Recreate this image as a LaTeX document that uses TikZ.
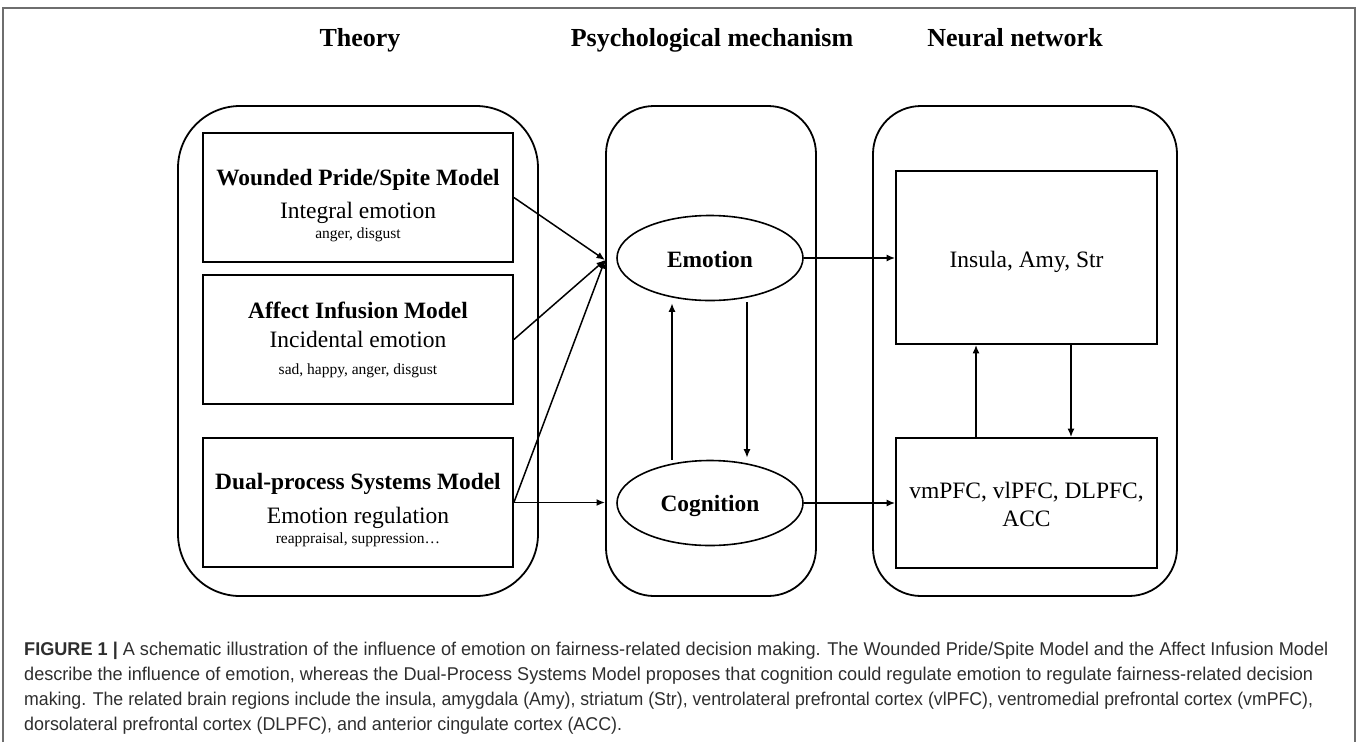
\documentclass[tikz,border=0pt]{standalone}
\usepackage{fontspec}
\usepackage{graphicx}
\setmainfont{Liberation Serif}
\newfontfamily\capfont{Liberation Sans}
\usetikzlibrary{shapes.geometric,arrows.meta}
\definecolor{captxt}{HTML}{2E2E2E}
\definecolor{framegray}{HTML}{6E6E6E}
\tikzset{
  panel/.style={draw, line width=1.8pt, rounded corners=#1},
  tbox/.style={draw, line width=1.8pt, rectangle, inner sep=0pt},
  oval/.style={draw, line width=1.6pt, ellipse, inner sep=0pt, minimum width=186pt, minimum height=85pt},
  conn/.style={line width=1.5pt, -{Latex[length=8.5pt,width=7pt]}},
  head/.style={anchor=base, font=\fontsize{26}{30}\selectfont\bfseries},
  bt/.style={anchor=base, font=\fontsize{23.4}{27}\selectfont\bfseries},
  rt/.style={anchor=base, font=\fontsize{23.5}{27}\selectfont},
  st/.style={anchor=base, font=\fontsize{15.5}{18}\selectfont},
  capline/.style={anchor=base west, inner sep=0pt, text=captxt, font=\capfont\fontsize{18.5}{21}\selectfont},
}
\newcommand{\capfit}[2]{\resizebox{#1}{\height}{#2}}
\begin{document}
\begin{tikzpicture}[x=1pt,y=-1pt]
\useasboundingbox (0,0) rectangle (1357,742);
% outer frame
\draw[framegray, line width=1.6pt] (3,742) -- (3,8) -- (1355,8) -- (1355,742);
% headings
\node[head] (hTheory) at (360,46) {Theory};
\node[head] (hPsy) at (712,46) {Psychological mechanism};
\node[head] (hNeu) at (1015,46) {Neural network};
% panels
\draw[panel=62] (178,106) rectangle (538,596);
\draw[panel=48] (606,106) rectangle (816,596);
\draw[panel=48] (873,106) rectangle (1177,596);
% theory boxes
\node[tbox, minimum width=310pt, minimum height=129pt] (b1) at (358,197.5) {};
\node[tbox, minimum width=310pt, minimum height=129pt] (b2) at (358,339.5) {};
\node[tbox, minimum width=310pt, minimum height=129pt] (b3) at (358,502.5) {};
\node[bt] (b1t1) at (358,185) {Wounded Pride/Spite Model};
\node[rt] (b1t2) at (358,218) {Integral emotion};
\node[st] (b1t3) at (358,238) {anger, disgust};
\node[bt] (b2t1) at (358,318) {Affect Infusion Model};
\node[rt] (b2t2) at (358,347) {Incidental emotion};
\node[st] (b2t3) at (358,374) {sad, happy, anger, disgust};
\node[bt] (b3t1) at (358,489) {Dual-process Systems Model};
\node[rt] (b3t2) at (358,523) {Emotion regulation};
\node[st] (b3t3) at (358,543) {reappraisal, suppression\ldots};
% ellipses
\node[oval] (emo) at (710,258) {};
\node[bt] (emot) at (710,267) {Emotion};
\node[oval] (cog) at (710,503) {};
\node[bt] (cogt) at (710,511) {Cognition};
% neural boxes
\node[tbox, minimum width=261pt, minimum height=173pt] (ins) at (1026.5,257.5) {};
\node[rt] (inst) at (1026.5,267) {Insula, Amy, Str};
\node[tbox, minimum width=261pt, minimum height=130pt] (pfc) at (1026.5,503) {};
\node[rt] (pfct1) at (1026.5,498) {vmPFC, vlPFC, DLPFC,};
\node[rt] (pfct2) at (1026.5,526) {ACC};
% connectors
\coordinate (conv) at (605,260);
\coordinate (upx) at (672,0);
\coordinate (dnx) at (747,0);
\coordinate (nupx) at (976,0);
\coordinate (ndnx) at (1071,0);
\draw[conn] (b1.east) -- (conv);
\draw[conn] (b2.east) -- (conv);
\draw[conn] (b3.east) -- (conv);
\draw[conn] (b3.east) -- (b3.east -| conv);
\draw[conn] (emo.east) -- (emo.east -| ins.west);
\draw[conn] (cog.east) -- (cog.east -| pfc.west);
\draw[conn] (cog.north -| upx) -- ([yshift=-2pt]emo.south -| upx);
\draw[conn] ([yshift=-1pt]emo.south -| dnx) -- ([yshift=2pt]cog.north -| dnx);
\draw[conn] (pfc.north -| nupx) -- (ins.south -| nupx);
\draw[conn] (ins.south -| ndnx) -- (pfc.north -| ndnx);
% caption
\node[capline] (c1) at (24,655) {\capfit{1304pt}{\textbf{FIGURE 1 |} A schematic illustration of the influence of emotion on fairness-related decision making. The Wounded Pride/Spite Model and the Affect Infusion Model}};
\node[capline] (c2) at (24,680) {\capfit{1289pt}{describe the influence of emotion, whereas the Dual-Process Systems Model proposes that cognition could regulate emotion to regulate fairness-related decision}};
\node[capline] (c3) at (24,705) {\capfit{1289pt}{making. The related brain regions include the insula, amygdala (Amy), striatum (Str), ventrolateral prefrontal cortex (vlPFC), ventromedial prefrontal cortex (vmPFC),}};
\node[capline] (c4) at (24,730) {\capfit{598pt}{dorsolateral prefrontal cortex (DLPFC), and anterior cingulate cortex (ACC).}};
\end{tikzpicture}
\end{document}
